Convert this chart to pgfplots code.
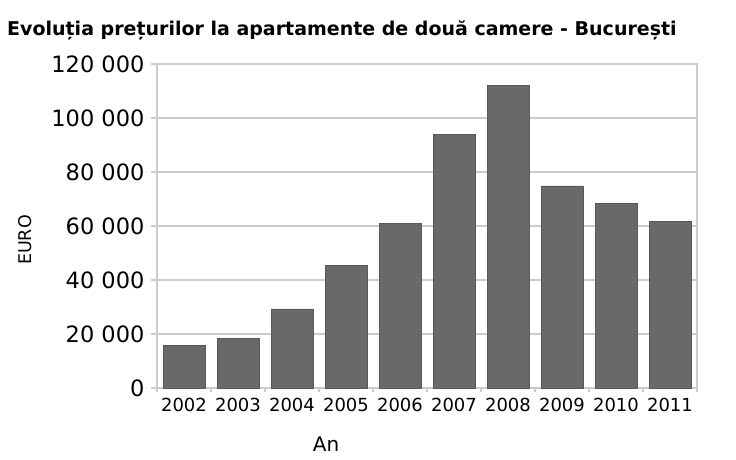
\documentclass[border=0pt]{standalone}
\usepackage{pgfplots}
\pgfplotsset{compat=1.18}
\usepackage{fontspec}
\setmainfont{DejaVu Sans}
\definecolor{barc}{HTML}{696969}
\definecolor{gridc}{HTML}{CCCCCC}
\begin{document}
\begin{tikzpicture}[x=1pt,y=1pt]
\path[use as bounding box] (0,0) rectangle (736,-459);
\node[anchor=base west,font=\bfseries\fontsize{19}{22}\selectfont,inner sep=0] at (7,-35) {Evoluția prețurilor la apartamente de două camere - București};
\begin{axis}[
  at={(157pt,-388pt)}, anchor=south west,
  scale only axis, width=540pt, height=324pt,
  xmin=-0.5, xmax=9.5, ymin=0, ymax=120000,
  ybar, bar width=42pt,
  xtick={0,...,9},
  xticklabels={2002,2003,2004,2005,2006,2007,2008,2009,2010,2011},
  minor xtick={-0.5,0.5,...,9.5},
  ytick={0,20000,40000,60000,80000,100000,120000},
  yticklabels={0,{20 000},{40 000},{60 000},{80 000},{100 000},{120 000}},
  major x tick style={draw=none},
  minor tick length=4pt,
  major tick length=6pt,
  tick align=outside, tick pos=left,
  tick style={gridc, line width=1.2pt},
  axis line style={gridc, line width=1.2pt},
  ymajorgrids, grid style={gridc, line width=1.2pt},
  scaled y ticks=false,
  yticklabel style={font=\fontsize{22.5}{25}\selectfont, xshift=-3pt},
  xticklabel style={font=\fontsize{18}{20}\selectfont, yshift=-1pt},
]
\addplot[fill=barc, draw=barc!85!black, line width=0.5pt] coordinates {
(0,15700) (1,18400) (2,29300) (3,45500) (4,61000) (5,93800) (6,112200) (7,74900) (8,68500) (9,61700)
};
\end{axis}
\node[font=\fontsize{20}{22}\selectfont] at (326,-444) {An};
\node[rotate=90,font=\fontsize{17.5}{20}\selectfont] at (25,-240) {EURO};
\end{tikzpicture}
\end{document}
